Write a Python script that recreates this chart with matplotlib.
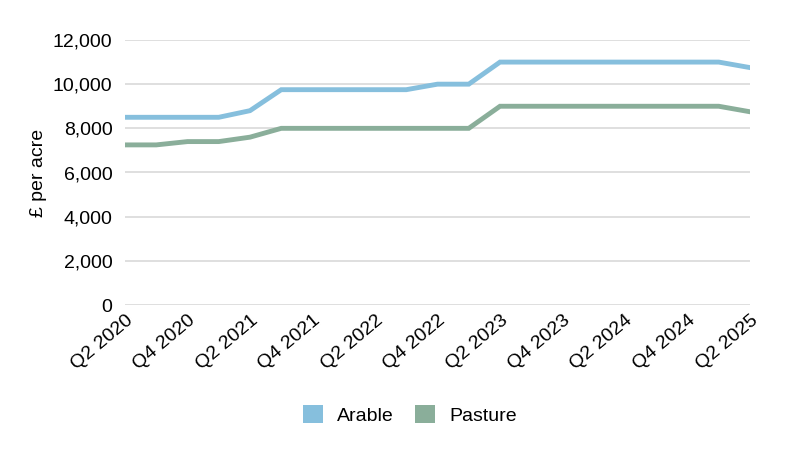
import matplotlib
matplotlib.use("Agg")
import matplotlib.pyplot as plt
from matplotlib.patches import Patch
from matplotlib.ticker import FuncFormatter

quarters = ["Q2 2020", "Q3 2020", "Q4 2020", "Q1 2021", "Q2 2021", "Q3 2021", "Q4 2021",
            "Q1 2022", "Q2 2022", "Q3 2022", "Q4 2022", "Q1 2023", "Q2 2023", "Q3 2023",
            "Q4 2023", "Q1 2024", "Q2 2024", "Q3 2024", "Q4 2024", "Q1 2025", "Q2 2025"]
arable = [8500, 8500, 8500, 8500, 8800, 9750, 9750, 9750, 9750, 9750, 10000, 10000,
          11000, 11000, 11000, 11000, 11000, 11000, 11000, 11000, 10750]
pasture = [7250, 7250, 7400, 7400, 7600, 8000, 8000, 8000, 8000, 8000, 8000, 8000,
           9000, 9000, 9000, 9000, 9000, 9000, 9000, 9000, 8750]
series_names = ["Arable", "Pasture"]
colors = ["#86bfdd", "#8aae9a"]

plt.rcParams["font.family"] = ["Liberation Sans", "DejaVu Sans"]

fig = plt.figure(figsize=(8, 4.5), dpi=100)
ax = fig.add_axes([125/800, (450-305)/450, 625/800, 265/450])

x = list(range(len(quarters)))
ax.plot(x, arable, color=colors[0], lw=3.5, solid_joinstyle="miter", zorder=3)
ax.plot(x, pasture, color=colors[1], lw=3.5, solid_joinstyle="miter", zorder=3)

ax.set_xlim(0, len(quarters) - 1)
ax.set_ylim(0, 12000)
ax.set_yticks(range(0, 12001, 2000))
ax.yaxis.set_major_formatter(FuncFormatter(lambda v, p: f"{int(v):,}"))
ax.set_xticks(x[::2])
ax.set_xticklabels(quarters[::2], rotation=40, ha="right", va="top", rotation_mode="anchor")
ax.tick_params(axis="both", length=0, labelsize=14, colors="black")
ax.tick_params(axis="x", pad=5)
ax.tick_params(axis="y", pad=9)
ax.grid(axis="y", color="#d9d9d9", lw=1.2)
ax.set_axisbelow(True)
for s in ax.spines.values():
    s.set_visible(False)
ax.set_ylabel("£ per acre", fontsize=14, labelpad=4)

handles = [Patch(facecolor=c, edgecolor="none", label=n) for c, n in zip(colors, series_names)]
fig.legend(handles=handles, loc="center", bbox_to_anchor=(410/800, 1 - 415/450), ncol=2,
           frameon=False, fontsize=14, handlelength=1.0, handleheight=1.0,
           handletextpad=0.75, columnspacing=1.1)

fig.savefig("out.png", dpi=100)
